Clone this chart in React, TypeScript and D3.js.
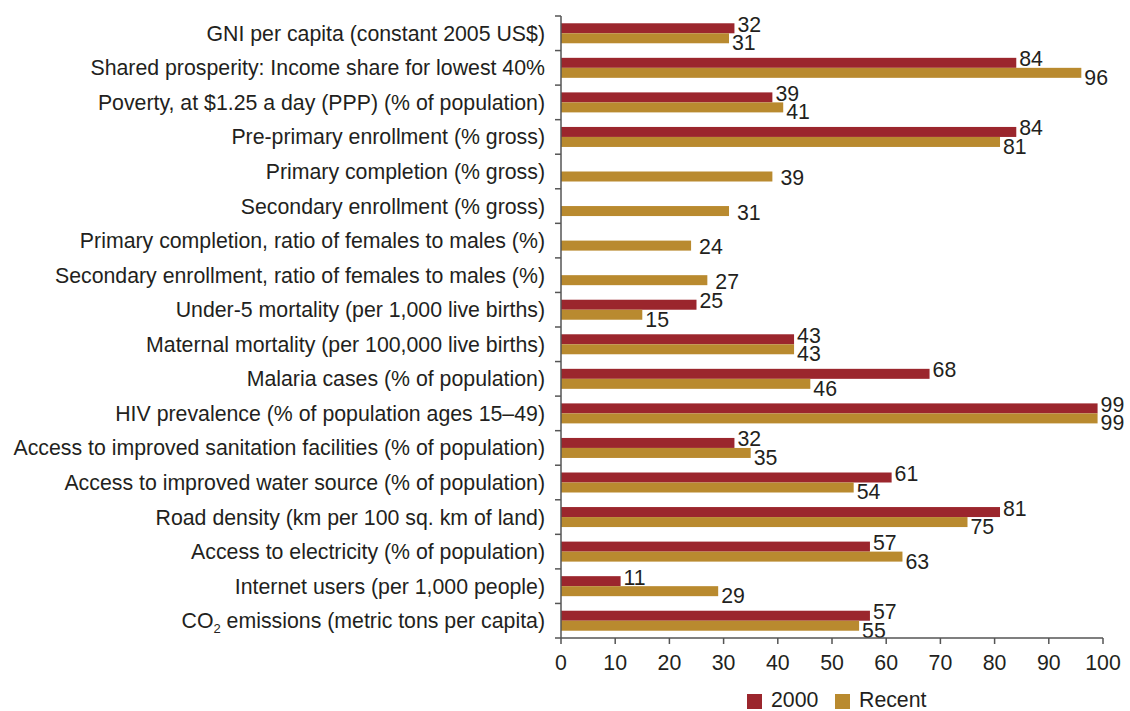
import * as d3 from "d3";

// indicator names (CO2 subscript handled at render time)
const categories: string[] = [
  "GNI per capita (constant 2005 US$)",
  "Shared prosperity: Income share for lowest 40%",
  "Poverty, at $1.25 a day (PPP) (% of population)",
  "Pre-primary enrollment (% gross)",
  "Primary completion (% gross)",
  "Secondary enrollment (% gross)",
  "Primary completion, ratio of females to males (%)",
  "Secondary enrollment, ratio of females to males (%)",
  "Under-5 mortality (per 1,000 live births)",
  "Maternal mortality (per 100,000 live births)",
  "Malaria cases (% of population)",
  "HIV prevalence (% of population ages 15–49)",
  "Access to improved sanitation facilities (% of population)",
  "Access to improved water source (% of population)",
  "Road density (km per 100 sq. km of land)",
  "Access to electricity (% of population)",
  "Internet users (per 1,000 people)",
  "CO2 emissions (metric tons per capita)",
];

const values2000: (number | null)[] = [
  32, 84, 39, 84, null, null, null, null, 25, 43, 68, 99, 32, 61, 81, 57, 11, 57,
];

const valuesRecent: number[] = [
  31, 96, 41, 81, 39, 31, 24, 27, 15, 43, 46, 99, 35, 54, 75, 63, 29, 55,
];

const xTicks: number[] = [0, 10, 20, 30, 40, 50, 60, 70, 80, 90, 100];

const seriesNames: string[] = ["2000", "Recent"];
const colors: string[] = ["#9b262d", "#b98a2f"];

const W = 1130;
const H = 711;
const FONT = "'Liberation Sans', Arial, Helvetica, sans-serif";
const TEXT = "#231f20";
const FS = 21.3;

const App = () => {
  const margin = { left: 561, right: 27, top: 16, bottom: 73 };
  const x = d3.scaleLinear().domain([0, 100]).range([margin.left, W - margin.right]);
  const y = d3
    .scaleBand<string>()
    .domain(categories)
    .range([margin.top, H - margin.bottom])
    .padding(0);
  const barH = 10;
  const axisY = H - margin.bottom;

  const boundaries = d3.range(categories.length + 1).map((i) => margin.top + i * y.step());

  const renderLabel = (c: string) => {
    if (c.startsWith("CO2")) {
      return (
        <>
          CO
          <tspan fontSize={13} dy={5}>2</tspan>
          <tspan dy={-5}>{c.slice(3)}</tspan>
        </>
      );
    }
    return c;
  };

  return (
    <svg
      width={W}
      height={H}
      style={{ position: "absolute", left: 0, top: 0, background: "#fff" }}
      fontFamily={FONT}
    >
      {/* category labels */}
      {categories.map((c) => (
        <text
          key={c}
          x={margin.left - 16}
          y={(y(c) as number) + y.bandwidth() / 2}
          dy="0.35em"
          textAnchor="end"
          fontSize={FS}
          fill={TEXT}
        >
          {renderLabel(c)}
        </text>
      ))}

      {/* bars */}
      {categories.map((c, i) => {
        const cy = (y(c) as number) + y.bandwidth() / 2;
        const v0 = values2000[i];
        const v1 = valuesRecent[i];
        return (
          <g key={c}>
            {v0 !== null && (
              <>
                <rect x={x(0)} y={cy - barH} width={x(v0) - x(0)} height={barH} fill={colors[0]} />
                <text x={x(v0) + 3} y={cy - 9} dy="0.35em" fontSize={FS} fill={TEXT}>
                  {v0}
                </text>
              </>
            )}
            <rect x={x(0)} y={cy} width={x(v1) - x(0)} height={barH} fill={colors[1]} />
            <text
              x={x(v1) + (v0 === null ? 8 : 3)}
              y={v0 === null ? cy + 6 : cy + 9.5}
              dy="0.35em"
              fontSize={FS}
              fill={TEXT}
            >
              {v1}
            </text>
          </g>
        );
      })}

      {/* y axis */}
      <line x1={x(0)} x2={x(0)} y1={margin.top} y2={axisY} stroke="#555" strokeWidth={1.5} />
      {boundaries.map((b, i) => (
        <line key={i} x1={x(0) - 6} x2={x(0)} y1={b} y2={b} stroke="#555" strokeWidth={1.5} />
      ))}

      {/* x axis */}
      <line x1={x(0)} x2={x(100)} y1={axisY} y2={axisY} stroke="#555" strokeWidth={1.5} />
      {xTicks.map((t) => (
        <g key={t}>
          <line x1={x(t)} x2={x(t)} y1={axisY} y2={axisY + 6} stroke="#555" strokeWidth={1.5} />
          <text
            x={x(t)}
            y={axisY + 25}
            dy="0.35em"
            textAnchor="middle"
            fontSize={FS}
            fill={TEXT}
          >
            {t}
          </text>
        </g>
      ))}

      {/* legend */}
      {seriesNames.map((s, i) => {
        const lx = i === 0 ? 747 : 835;
        return (
          <g key={s}>
            <rect x={lx} y={694} width={15} height={15} fill={colors[i]} />
            <text x={lx + 24} y={700} dy="0.35em" fontSize={FS} fill={TEXT}>
              {s}
            </text>
          </g>
        );
      })}
    </svg>
  );
};

export default App;
